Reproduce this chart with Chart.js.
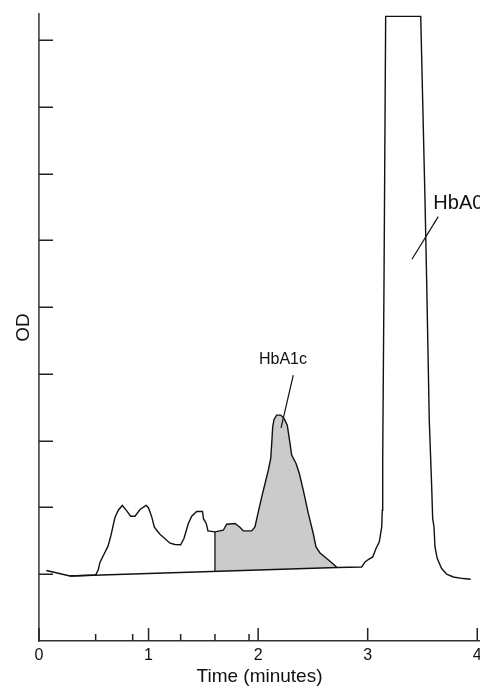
<!DOCTYPE html>
<html>
<head>
<meta charset="utf-8">
<script src="https://cdn.jsdelivr.net/npm/chart.js@4.4.0/dist/chart.umd.min.js"></script>
<style>
  html, body { margin: 0; padding: 0; background: #fff; }
  #wrap { width: 480px; height: 691px; }
</style>
</head>
<body>
<div id="wrap"><canvas id="hplc" width="480" height="691"></canvas></div>
<script>
// chromatogram trace (time in minutes, OD in tick units)
var traceTime = [0.067, 0.283, 0.517, 0.541, 0.557, 0.593, 0.630, 0.657, 0.694, 0.724,
  0.760, 0.799, 0.837, 0.876, 0.922, 0.977, 0.999, 1.029, 1.052, 1.074,
  1.104, 1.196, 1.241, 1.293, 1.323, 1.363, 1.394, 1.439, 1.492, 1.501,
  1.527, 1.542, 1.606, 1.682, 1.713, 1.789, 1.834, 1.865, 1.941, 1.971,
  2.001, 2.033, 2.063, 2.093, 2.115, 2.124, 2.133, 2.145, 2.169, 2.206,
  2.236, 2.266, 2.291, 2.306, 2.346, 2.376, 2.412, 2.458, 2.503, 2.528,
  2.565, 2.626, 2.680, 2.720, 2.945, 2.976, 3.005, 3.046, 3.076, 3.106,
  3.128, 3.133, 3.137, 3.149, 3.164, 3.484, 3.523, 3.538, 3.562, 3.584,
  3.593, 3.605, 3.614, 3.635, 3.675, 3.721, 3.781, 3.872, 3.940];
var traceOD = [1.055, 0.974, 0.989, 1.067, 1.180, 1.300, 1.420, 1.584, 1.854, 1.959,
  2.030, 1.952, 1.869, 1.869, 1.970, 2.030, 1.997, 1.859, 1.709, 1.659,
  1.599, 1.465, 1.445, 1.442, 1.535, 1.760, 1.869, 1.940, 1.940, 1.832,
  1.757, 1.649, 1.634, 1.659, 1.749, 1.760, 1.704, 1.649, 1.649, 1.709,
  1.929, 2.159, 2.359, 2.559, 2.734, 2.959, 3.208, 3.319, 3.383, 3.383,
  3.334, 3.233, 2.959, 2.784, 2.659, 2.509, 2.259, 1.910, 1.610, 1.409,
  1.319, 1.235, 1.160, 1.100, 1.109, 1.184, 1.220, 1.259, 1.385, 1.484,
  1.709, 1.959, 2.709, 5.407, 9.354, 9.354, 6.606, 5.407, 3.308, 2.308,
  1.835, 1.709, 1.409, 1.235, 1.085, 1.000, 0.959, 0.935, 0.925];

// integration baseline and the HbA1c cut
var baseTime = [0.283, 2.720];
var baseOD = [0.974, 1.100];
var cutTime = [1.606, 1.606];
var cutOD = [1.042, 1.634];
var shadeFrom = 1.606, shadeTo = 2.720;

// axes
var timeTicks = [0, 1, 2, 3, 4];
var markTimes = [0.517, 0.855, 1.293, 1.606, 1.917];
var odTicks = [1, 2, 3, 4, 5, 6, 7, 8, 9];

// peak names and their pointer lines
var peakNames = ['HbA1c', 'HbA0'];
var pointerTime = [[2.321, 2.209], [3.644, 3.404]];
var pointerOD = [[3.983, 3.193], [6.356, 5.717]];

var FONT = 'Liberation Sans, Arial, Helvetica, sans-serif';
var labelPlace = [
  { x: 2.227, y: 4.21, align: 'center', size: 16 },
  { x: 3.599, y: 6.557, align: 'left', size: 20 }
];

function pts(xs, ys) {
  return xs.map(function (x, i) { return { x: x, y: ys[i] }; });
}

var tracePts = pts(traceTime, traceOD);
var shadePts = tracePts.filter(function (p) { return p.x >= shadeFrom && p.x <= shadeTo; });

function lineSet(data, w) {
  return { data: data, borderColor: '#111', borderWidth: w, pointRadius: 0, fill: false, tension: 0 };
}

var datasets = [
  lineSet(tracePts, 1.4),
  lineSet(pts(baseTime, baseOD), 1.4),
  lineSet(pts(cutTime, cutOD), 1.3),
  lineSet(pts(pointerTime[0], pointerOD[0]), 1.2),
  lineSet(pts(pointerTime[1], pointerOD[1]), 1.2),
  { data: shadePts, borderWidth: 0, borderColor: 'rgba(0,0,0,0)', pointRadius: 0,
    backgroundColor: '#cbcbcb', fill: 1, tension: 0 }
];

// ticks point inward, plus peak names
var inwardTicks = {
  id: 'inwardTicks',
  afterDatasetsDraw: function (chart) {
    var ctx = chart.ctx, xs = chart.scales.x, ys = chart.scales.y;
    var left = chart.chartArea.left, bottom = chart.chartArea.bottom;
    ctx.save();
    ctx.strokeStyle = '#222';
    ctx.lineWidth = 1.5;
    ctx.beginPath();
    odTicks.forEach(function (v) {
      var p = Math.round(ys.getPixelForValue(v)) + 0.25;
      ctx.moveTo(left, p); ctx.lineTo(left + 14, p);
    });
    timeTicks.forEach(function (v) {
      var p = xs.getPixelForValue(v);
      ctx.moveTo(p, bottom); ctx.lineTo(p, bottom - 13);
    });
    markTimes.forEach(function (v) {
      var p = xs.getPixelForValue(v);
      ctx.moveTo(p, bottom); ctx.lineTo(p, bottom - 7);
    });
    ctx.stroke();

    ctx.fillStyle = '#111';
    ctx.textBaseline = 'middle';
    peakNames.forEach(function (name, i) {
      var l = labelPlace[i];
      ctx.font = l.size + 'px ' + FONT;
      ctx.textAlign = l.align;
      ctx.fillText(name, xs.getPixelForValue(l.x), ys.getPixelForValue(l.y));
    });
    ctx.restore();
  }
};

new Chart(document.getElementById('hplc'), {
  type: 'line',
  data: { datasets: datasets },
  options: {
    responsive: false,
    animation: false,
    layout: { padding: { top: 14, right: 0, left: 0, bottom: 0 } },
    plugins: { legend: { display: false }, tooltip: { enabled: false }, filler: { propagate: false } },
    scales: {
      x: {
        type: 'linear', min: 0, max: 4.025,
        grid: { display: false, drawTicks: false },
        border: { display: true, color: '#333', width: 1.5 },
        afterBuildTicks: function (s) { s.ticks = timeTicks.map(function (v) { return { value: v }; }); },
        afterFit: function (s) { s.height = 50; s.paddingRight = 0; s.paddingLeft = 0; },
        ticks: { padding: 5, color: '#111', maxRotation: 0, autoSkip: false, font: { family: FONT, size: 16 } },
        title: { display: true, text: 'Time (minutes)', color: '#111', font: { family: FONT, size: 19 }, padding: { top: 0, bottom: 3 } }
      },
      y: {
        type: 'linear', min: 0, max: 9.39,
        grid: { display: false, drawTicks: false },
        border: { display: true, color: '#555', width: 1.8 },
        ticks: { display: false },
        afterFit: function (s) { s.width = 39; },
        title: { display: true, text: 'OD', color: '#111', font: { family: FONT, size: 19 }, padding: { top: 12, bottom: 0 } }
      }
    }
  },
  plugins: [inwardTicks]
});
</script>
</body>
</html>
